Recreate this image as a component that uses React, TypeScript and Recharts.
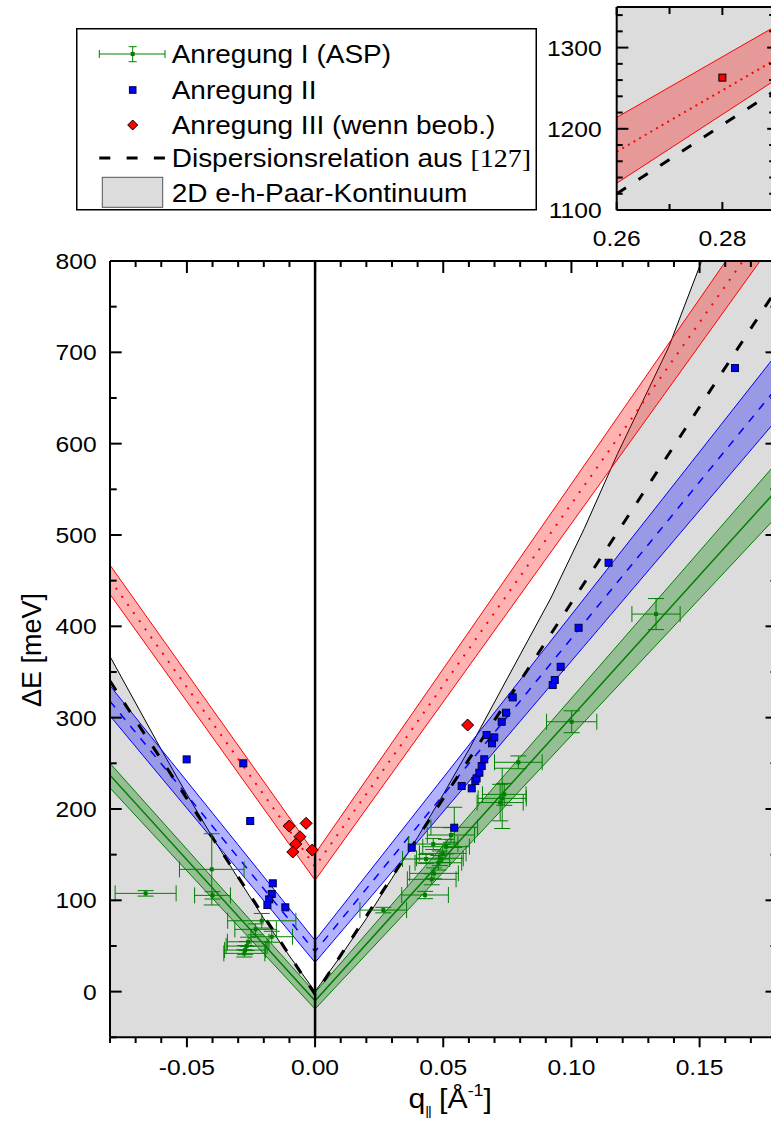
import React from "react";
import {
  ComposedChart,
  Area,
  Line,
  Scatter,
  XAxis,
  YAxis,
  ErrorBar,
  ReferenceLine,
  Legend,
  CartesianGrid,
} from "recharts";

// upper edge of the 2D e-h pair continuum
const contQ = [-0.08, -0.07, -0.06, -0.05, -0.04, -0.03, -0.02, -0.01, 0, 0.01, 0.02, 0.03, 0.04, 0.05, 0.06, 0.075, 0.092, 0.105, 0.118, 0.138, 0.1508, 0.18];
const contE = [367, 316, 265, 216, 169, 124, 80, 39, 0, 39, 80, 124, 169, 216, 265, 343, 431, 507, 589, 706, 800, 800];

// fitted bands: left edge, q = 0, right edge
const bandQ = [-0.08, 0, 0.18];
const redLo = [435, 122, 825];
const redHi = [467, 151, 880];
const redMid = [451, 137, 852];
const blueLo = [302, 32, 626];
const blueHi = [335, 56, 698];
const blueMid = [318, 44, 661];
const greenLo = [223, -19, 520];
const greenHi = [250, -1, 579];
const greenMid = [237, -10, 549];
const dispE = [340, -3, 769];

// Anregung I (ASP) with errors
const greenQ = [-0.0661, -0.0403, -0.04, -0.0208, -0.0232, -0.0169, -0.0261, -0.0267, -0.0273, -0.0276,
  0.0266, 0.0429, 0.0455, 0.0464, 0.0481, 0.0433, 0.0487, 0.0498, 0.0511, 0.0461, 0.053, 0.0543,
  0.073, 0.0722, 0.0738, 0.0793, 0.1001, 0.133];
const greenE = [107.6, 133.9, 105.4, 77.6, 68.2, 60.1, 54.6, 49.9, 45.5, 41.9,
  89.3, 105.8, 123, 129.5, 141.1, 145.2, 146, 151.4, 158.7, 161.6, 171.5, 179.9,
  211.6, 207, 216, 251.1, 295.5, 413.4];
const greenDq = [0.0119, 0.0126, 0.007, 0.0133, 0.0081, 0.0081, 0.0081, 0.008, 0.008, 0.008,
  0.0091, 0.0091, 0.0095, 0.0095, 0.0091, 0.0092, 0.0091, 0.0091, 0.0091, 0.0096, 0.0092, 0.0091,
  0.0094, 0.009, 0.0085, 0.0093, 0.0098, 0.0094];
const greenDe = [3, 39, 4, 8, 6, 6, 5, 5, 5, 4,
  3, 4, 6, 6, 8, 5, 8, 10, 8, 6, 8, 22,
  33, 20, 12, 7, 12, 17];

// Anregung II
const blueQ = [-0.0501, -0.028, -0.0253, -0.0165, -0.0169, -0.0179, -0.0186, -0.0116,
  0.0377, 0.0543, 0.0572, 0.0611, 0.0625, 0.063, 0.0641, 0.065, 0.066, 0.069, 0.0699, 0.0669,
  0.0728, 0.0745, 0.0771, 0.0927, 0.0935, 0.0958, 0.1028, 0.1145, 0.1638];
const blueE = [254.3, 250, 186.8, 118.6, 106.9, 101, 94.8, 92.3,
  157.6, 179.5, 225.1, 222.6, 230.6, 233.5, 239.7, 247, 254.4, 271.9, 278.4, 281,
  295.5, 305.4, 322.2, 335.7, 341.2, 355.7, 398.4, 469.6, 682.8];

// Anregung III
const redQ = [-0.0101, -0.0035, -0.0059, -0.0075, -0.0087, -0.0011, 0.0595];
const redE = [181.3, 184.3, 169.6, 161.6, 152.9, 155, 291.9];

const xTicks = [-0.08, -0.07, -0.06, -0.05, -0.04, -0.03, -0.02, -0.01, 0, 0.01, 0.02, 0.03, 0.04,
  0.05, 0.06, 0.07, 0.08, 0.09, 0.1, 0.11, 0.12, 0.13, 0.14, 0.15, 0.16, 0.17, 0.18];
const xMajor = [-0.05, 0, 0.05, 0.1, 0.15];
const yTicks = [-50, 0, 50, 100, 150, 200, 250, 300, 350, 400, 450, 500, 550, 600, 650, 700, 750, 800];
const yMajor = [0, 100, 200, 300, 400, 500, 600, 700, 800];

// inset
const insetQ = [0.26, 0.29];
const insetLo = [1133, 1260];
const insetHi = [1214, 1326];
const insetMid = [1172, 1285];
const insetDisp = [1120, 1247];
const insetPtQ = [0.28];
const insetPtE = [1263];
const insetXTicks = [0.26, 0.27, 0.28, 0.29];
const insetXMajor = [0.26, 0.28];
const insetYTicks = [1100, 1120, 1140, 1160, 1180, 1200, 1220, 1240, 1260, 1280, 1300, 1320, 1340];
const insetYMajor = [1100, 1200, 1300];

const contData = contQ.map((q, i) => ({ q, E: contE[i] }));
const band = (lo: number[], hi: number[], mid: number[]) =>
  bandQ.map((q, i) => ({ q, band: [lo[i], hi[i]], mid: mid[i] }));
const redBand = band(redLo, redHi, redMid);
const blueBand = band(blueLo, blueHi, blueMid);
const greenBand = band(greenLo, greenHi, greenMid);
const dispData = bandQ.map((q, i) => ({ q, E: dispE[i] }));
const greenData = greenQ.map((q, i) => ({ q, E: greenE[i], dq: greenDq[i], dE: greenDe[i] }));
const blueData = blueQ.map((q, i) => ({ q, E: blueE[i] }));
const redData = redQ.map((q, i) => ({ q, E: redE[i] }));
const insetBand = insetQ.map((q, i) => ({ q, band: [insetLo[i], insetHi[i]], mid: insetMid[i] }));
const insetDispData = insetQ.map((q, i) => ({ q, E: insetDisp[i] }));
const insetPt = insetPtQ.map((q, i) => ({ q, E: insetPtE[i] }));

const SANS = "'Liberation Sans', Arial, sans-serif";
const SERIF = "'Liberation Serif', 'DejaVu Serif', serif";
const SX = 1.12;
const GREEN = "#008000";

const isMajor = (v: number, list: number[]) => list.some((m) => Math.abs(m - v) < 1e-9);

function SText({ x, y, anchor, size, children }: any) {
  return (
    <text transform={`translate(${x} ${y}) scale(${SX} 1)`} textAnchor={anchor} fontSize={size} fontFamily={SANS} fill="#000">
      {children}
    </text>
  );
}

// ticks are drawn by hand so that they can point inwards / have minor lengths
function hTick(majors: number[], majLen: number, minLen: number, dir: number, labelDy: number | null) {
  return (p: any) => {
    const v = p.payload.value;
    const m = isMajor(v, majors);
    return (
      <g>
        <line x1={p.x} x2={p.x} y1={p.y} y2={p.y + dir * (m ? majLen : minLen)} stroke="#000" strokeWidth={2} />
        {m && labelDy !== null && (
          <SText x={p.x} y={p.y + labelDy} anchor="middle" size={22}>{v.toFixed(2)}</SText>
        )}
      </g>
    );
  };
}

function vTick(majors: number[], majLen: number, minLen: number, dir: number, labelDx: number | null) {
  return (p: any) => {
    const v = p.payload.value;
    const m = isMajor(v, majors);
    return (
      <g>
        <line x1={p.x} x2={p.x + dir * (m ? majLen : minLen)} y1={p.y} y2={p.y} stroke="#000" strokeWidth={2} />
        {m && labelDx !== null && (
          <SText x={p.x + labelDx} y={p.y + 8} anchor="end" size={22}>{String(v)}</SText>
        )}
      </g>
    );
  };
}

function XTitle(props: any) {
  const vb = props.viewBox || { x: 110, y: 1037.3, width: 666.5 };
  const cx = vb.x + vb.width / 2 + 7;
  const by = vb.y + 71;
  return (
    <text transform={`translate(${cx} ${by}) scale(${SX} 1)`} textAnchor="middle" fontSize={27} fontFamily={SANS}>
      q<tspan fontSize={13} dy={7} letterSpacing={-1}>||</tspan>
      <tspan dy={-7}> [Å</tspan>
      <tspan fontSize={16} dy={-12}>-1</tspan>
      <tspan dy={12}>]</tspan>
    </text>
  );
}

function YTitle() {
  return (
    <text transform="translate(41 650) rotate(-90)" textAnchor="middle" fontSize={27} fontFamily={SANS}>
      ΔE [meV]
    </text>
  );
}

const squareShape = (p: any) => (
  <rect x={p.cx - 3.5} y={p.cy - 3.5} width={7} height={7} fill="#0000ff" stroke="#000040" strokeWidth={1} />
);
const redSquareShape = (p: any) => (
  <rect x={p.cx - 3.5} y={p.cy - 3.5} width={7} height={7} fill="#ff0000" stroke="#000" strokeWidth={1} />
);
const diamondShape = (p: any) => (
  <polygon
    points={`${p.cx},${p.cy - 6} ${p.cx + 6},${p.cy} ${p.cx},${p.cy + 6} ${p.cx - 6},${p.cy}`}
    fill="#ff0000"
    stroke="#000"
    strokeWidth={1}
  />
);
const greenShape = (p: any) => <rect x={p.cx - 2} y={p.cy - 2} width={4} height={4} fill={GREEN} />;

function LegendBox() {
  const sx = 56.7;
  const tx = 95.7;
  const row = (y: number, label: React.ReactNode) => (
    <text transform={`translate(${tx} ${y}) scale(${SX} 1)`} fontSize={25} fontFamily={SANS} fill="#000">
      {label}
    </text>
  );
  return (
    <svg width={462} height={183} style={{ display: "block" }}>
      <rect x={0.75} y={0.75} width={459.5} height={181} fill="#fff" stroke="#000" strokeWidth={1.5} />
      <g stroke={GREEN} strokeWidth={1}>
        <line x1={23.3} x2={89} y1={26} y2={26} />
        <line x1={23.3} x2={23.3} y1={22} y2={30} />
        <line x1={89} x2={89} y1={22} y2={30} />
        <line x1={sx} x2={sx} y1={18.7} y2={33.7} />
        <line x1={sx - 4} x2={sx + 4} y1={18.7} y2={18.7} />
        <line x1={sx - 4} x2={sx + 4} y1={33.7} y2={33.7} />
      </g>
      <rect x={sx - 2} y={24} width={4} height={4} fill={GREEN} />
      {row(35.3, "Anregung I (ASP)")}
      <rect x={sx - 3.3} y={58.7} width={6.6} height={6.6} fill="#0000ff" stroke="#000040" strokeWidth={1} />
      {row(71.3, "Anregung II")}
      <polygon points={`${sx},92 ${sx + 5},97 ${sx},102 ${sx - 5},97`} fill="#ff0000" stroke="#000" strokeWidth={1} />
      {row(106.3, "Anregung III (wenn beob.)")}
      <line x1={23.3} x2={89} y1={130} y2={130} stroke="#000" strokeWidth={3} strokeDasharray="11 16.3" />
      {row(139.3, <>Dispersionsrelation aus <tspan fontFamily={SERIF}>[127]</tspan></>)}
      <rect x={26.3} y={149.3} width={60.4} height={30} fill="#dcdcdc" stroke="#555" strokeWidth={1} />
      {row(174.3, "2D e-h-Paar-Kontinuum")}
    </svg>
  );
}

function MainChart() {
  return (
    <ComposedChart width={800} height={1122} margin={{ top: 241, right: 3.5, bottom: 0, left: 0 }}>
      <XAxis
        type="number"
        dataKey="q"
        domain={[-0.08, 0.18]}
        allowDataOverflow
        ticks={xTicks}
        interval={0}
        height={84.7}
        tickSize={0}
        tickMargin={0}
        tickLine={false}
        stroke="#000"
        axisLine={{ stroke: "#000", strokeWidth: 2 }}
        tick={hTick(xMajor, 10, 5.7, 1, 37.8)}
        label={<XTitle />}
      />
      <XAxis
        xAxisId="top"
        orientation="top"
        type="number"
        dataKey="q"
        domain={[-0.08, 0.18]}
        allowDataOverflow
        ticks={xTicks}
        interval={0}
        height={20}
        tickSize={0}
        tickMargin={0}
        tickLine={false}
        stroke="#000"
        axisLine={{ stroke: "#000", strokeWidth: 2 }}
        tick={hTick(xMajor, 12, 6, 1, null)}
      />
      <YAxis
        type="number"
        domain={[-50, 800]}
        allowDataOverflow
        ticks={yTicks}
        interval={0}
        width={110}
        tickSize={0}
        tickMargin={0}
        tickLine={false}
        stroke="#000"
        axisLine={{ stroke: "#000", strokeWidth: 2 }}
        tick={vTick(yMajor, 11.7, 6.7, 1, -13.3)}
        label={<YTitle />}
      />
      <YAxis
        yAxisId="right"
        orientation="right"
        type="number"
        domain={[-50, 800]}
        allowDataOverflow
        ticks={yTicks}
        interval={0}
        width={20}
        tickSize={0}
        tickMargin={0}
        tickLine={false}
        stroke="#000"
        axisLine={{ stroke: "#000", strokeWidth: 2 }}
        tick={vTick(yMajor, 11, 6, -1, null)}
      />

      <Area data={contData} dataKey="E" type="linear" baseValue={-50} fill="#dcdcdc" fillOpacity={1} stroke="#000" strokeWidth={1} dot={false} activeDot={false} isAnimationActive={false} />

      <Area data={greenBand} dataKey="band" type="linear" fill={GREEN} fillOpacity={0.32} stroke={GREEN} strokeWidth={1} dot={false} activeDot={false} isAnimationActive={false} />
      <Line data={greenBand} dataKey="mid" type="linear" stroke={GREEN} strokeWidth={1.5} dot={false} activeDot={false} isAnimationActive={false} />

      <Area data={blueBand} dataKey="band" type="linear" fill="#0000ff" fillOpacity={0.3} stroke="#0000ff" strokeWidth={1} dot={false} activeDot={false} isAnimationActive={false} />
      <Line data={blueBand} dataKey="mid" type="linear" stroke="#0000ff" strokeWidth={1.5} strokeDasharray="8 8" dot={false} activeDot={false} isAnimationActive={false} />

      <Area data={redBand} dataKey="band" type="linear" fill="#ff0000" fillOpacity={0.3} stroke="#ff0000" strokeWidth={1} dot={false} activeDot={false} isAnimationActive={false} />
      <Line data={redBand} dataKey="mid" type="linear" stroke="#ff0000" strokeWidth={2} strokeDasharray="2 8" dot={false} activeDot={false} isAnimationActive={false} />

      <Line data={dispData} dataKey="E" type="linear" stroke="#000" strokeWidth={3} strokeDasharray="11 15" dot={false} activeDot={false} isAnimationActive={false} />

      <ReferenceLine x={0} stroke="#000" strokeWidth={2.5} />

      <Scatter data={greenData} dataKey="E" shape={greenShape} isAnimationActive={false}>
        <ErrorBar dataKey="dq" direction="x" width={8} stroke={GREEN} strokeWidth={1} />
        <ErrorBar dataKey="dE" direction="y" width={8} stroke={GREEN} strokeWidth={1} />
      </Scatter>
      <Scatter data={blueData} dataKey="E" shape={squareShape} isAnimationActive={false} />
      <Scatter data={redData} dataKey="E" shape={diamondShape} isAnimationActive={false} />

      <Legend
        layout="vertical"
        align="center"
        verticalAlign="middle"
        content={() => <LegendBox />}
        wrapperStyle={{ left: 76, top: 28, width: 462, height: 183 }}
      />
    </ComposedChart>
  );
}

function InsetChart() {
  return (
    <ComposedChart width={240} height={260} margin={{ top: 0, right: 0.8, bottom: 0, left: 0 }}>
      <CartesianGrid fill="#dcdcdc" stroke="none" horizontal={false} vertical={false} />
      <XAxis
        type="number"
        dataKey="q"
        domain={[0.26, 0.29]}
        allowDataOverflow
        ticks={insetXTicks}
        interval={0}
        height={50}
        tickSize={0}
        tickMargin={0}
        tickLine={false}
        stroke="#000"
        axisLine={{ stroke: "#000", strokeWidth: 2 }}
        tick={hTick(insetXMajor, 8, 6, -1, 36)}
      />
      <XAxis
        xAxisId="top"
        orientation="top"
        type="number"
        dataKey="q"
        domain={[0.26, 0.29]}
        allowDataOverflow
        ticks={insetXTicks}
        interval={0}
        height={7}
        tickSize={0}
        tickMargin={0}
        tickLine={false}
        stroke="#000"
        axisLine={{ stroke: "#000", strokeWidth: 2 }}
        tick={hTick(insetXMajor, 8, 7, 1, null)}
      />
      <YAxis
        type="number"
        domain={[1100, 1350]}
        allowDataOverflow
        ticks={insetYTicks}
        interval={0}
        width={76.7}
        tickSize={0}
        tickMargin={0}
        tickLine={false}
        stroke="#000"
        axisLine={{ stroke: "#000", strokeWidth: 2 }}
        tick={vTick(insetYMajor, 11.7, 6, 1, -15)}
      />
      <YAxis
        yAxisId="right"
        orientation="right"
        type="number"
        domain={[1100, 1350]}
        allowDataOverflow
        ticks={insetYTicks}
        interval={0}
        width={4}
        tickSize={0}
        tickMargin={0}
        tickLine={false}
        stroke="#000"
        axisLine={{ stroke: "#000", strokeWidth: 2 }}
        tick={vTick(insetYMajor, 8, 6, -1, null)}
      />
      <Area data={insetBand} dataKey="band" type="linear" fill="#ff0000" fillOpacity={0.3} stroke="#ff0000" strokeWidth={1} dot={false} activeDot={false} isAnimationActive={false} />
      <Line data={insetBand} dataKey="mid" type="linear" stroke="#ff0000" strokeWidth={2} strokeDasharray="2 4.5" dot={false} activeDot={false} isAnimationActive={false} />
      <Line data={insetDispData} dataKey="E" type="linear" stroke="#000" strokeWidth={3} strokeDasharray="11 15" dot={false} activeDot={false} isAnimationActive={false} />
      <Scatter data={insetPt} dataKey="E" shape={redSquareShape} isAnimationActive={false} />
    </ComposedChart>
  );
}

export default function App() {
  return (
    <div style={{ position: "relative", width: 771, height: 1122, overflow: "hidden", background: "#fff" }}>
      <style>{`html,body{margin:0;padding:0;overflow:hidden;background:#fff}`}</style>
      <MainChart />
      <div style={{ position: "absolute", left: 540, top: 0 }}>
        <InsetChart />
      </div>
    </div>
  );
}
